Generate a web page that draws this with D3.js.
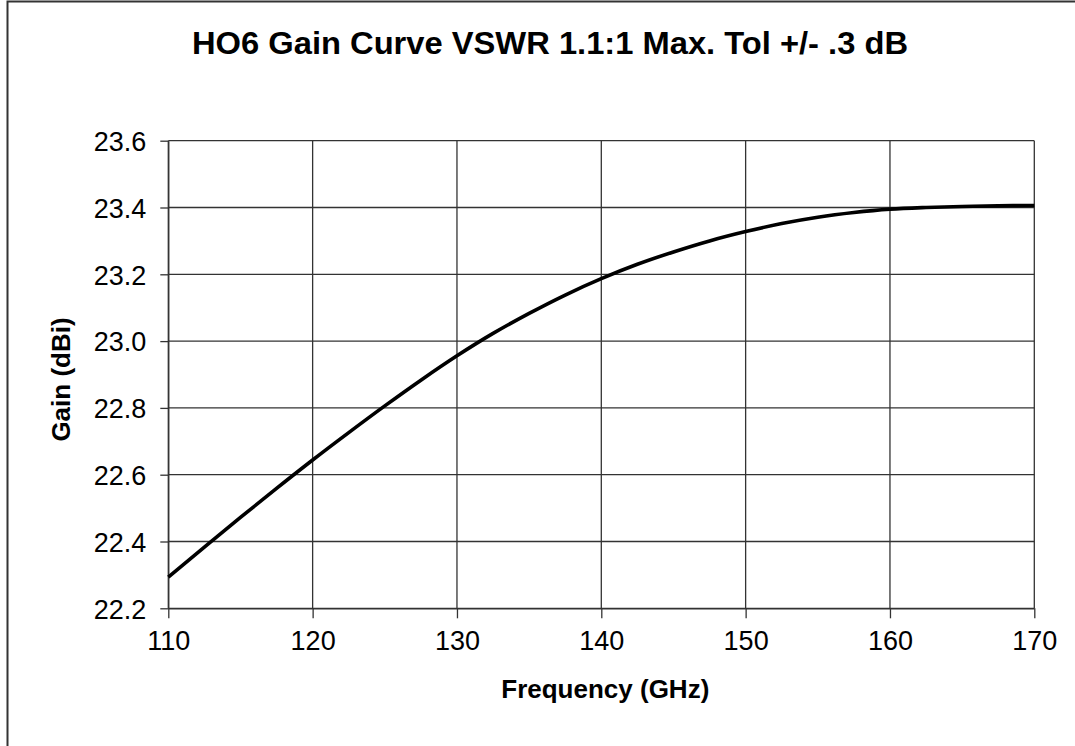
<!DOCTYPE html>
<html>
<head>
<meta charset="utf-8">
<script src="https://cdn.jsdelivr.net/npm/d3@7"></script>
<style>
  html, body { margin: 0; padding: 0; background: #fff; }
  svg { display: block; font-family: "Liberation Sans", Arial, sans-serif; }
</style>
</head>
<body>
<div id="chart"></div>
<script>
// Données
const frequencies = [110, 112.5, 115, 117.5, 120, 122.5, 125, 127.5, 130, 132.5, 135, 137.5, 140,
    142.5, 145, 147.5, 150, 152.5, 155, 157.5, 160, 162.5, 165, 167.5, 170];
const gains = [22.293, 22.383, 22.472, 22.559, 22.644, 22.726, 22.806, 22.883, 22.956, 23.023, 23.083, 23.138, 23.187,
    23.230, 23.267, 23.300, 23.328, 23.352, 23.371, 23.385, 23.395, 23.400, 23.403, 23.405, 23.406];
const xTicks = [110, 120, 130, 140, 150, 160, 170];
const yTicks = [22.2, 22.4, 22.6, 22.8, 23.0, 23.2, 23.4, 23.6];

const chartTitle = 'HO6 Gain Curve VSWR 1.1:1 Max. Tol +/- .3 dB';
const xTitle = 'Frequency (GHz)';
const yTitle = 'Gain (dBi)';

const W = 1075, H = 746;
const plot = { left: 168.3, right: 1034.3, top: 140.7, bottom: 608.3 };

const svg = d3.select('#chart').append('svg')
    .attr('width', W)
    .attr('height', H);

// cadre extérieur
svg.append('rect')
    .attr('x', 7.5).attr('y', 1.5)
    .attr('width', 1100).attr('height', 800)
    .attr('fill', '#fff')
    .attr('stroke', '#333')
    .attr('stroke-width', 2);

const x = d3.scaleLinear().domain([110, 170]).range([plot.left, plot.right]);
const y = d3.scaleLinear().domain([22.2, 23.6]).range([plot.bottom, plot.top]);

// grille
const grid = svg.append('g').attr('stroke', '#333').attr('stroke-width', 1.3);
grid.selectAll('.vg').data(xTicks).enter().append('line')
    .attr('x1', d => x(d)).attr('x2', d => x(d))
    .attr('y1', plot.top).attr('y2', plot.bottom);
grid.selectAll('.hg').data(yTicks).enter().append('line')
    .attr('x1', plot.left).attr('x2', plot.right)
    .attr('y1', d => y(d)).attr('y2', d => y(d));

// axes
const xAxis = svg.append('g')
    .attr('transform', `translate(0,${plot.bottom})`)
    .call(d3.axisBottom(x).tickValues(xTicks).tickFormat(d3.format('d')).tickSize(10).tickSizeOuter(0).tickPadding(13));

const yAxis = svg.append('g')
    .attr('transform', `translate(${plot.left},0)`)
    .call(d3.axisLeft(y).tickValues(yTicks).tickFormat(d3.format('.1f')).tickSize(8).tickSizeOuter(0).tickPadding(14));

[xAxis, yAxis].forEach(a => {
    a.selectAll('path, line').attr('stroke', '#333').attr('stroke-width', 1.3);
    a.selectAll('text')
        .attr('fill', '#000')
        .style('font-family', '"Liberation Sans", Arial, sans-serif')
        .style('font-size', '27px');
});
yAxis.selectAll('text').attr('dy', '0.36em');

// courbe
const line = d3.line()
    .x((d, i) => x(frequencies[i]))
    .y(d => y(d))
    .curve(d3.curveCatmullRom.alpha(0.5));

svg.append('path')
    .datum(gains)
    .attr('fill', 'none')
    .attr('stroke', '#000')
    .attr('stroke-width', 3.6)
    .attr('d', line);

// titres
svg.append('text')
    .attr('x', 550).attr('y', 54)
    .attr('text-anchor', 'middle')
    .attr('textLength', 716)
    .attr('lengthAdjust', 'spacingAndGlyphs')
    .style('font-size', '31px')
    .style('font-weight', 'bold')
    .text(chartTitle);

svg.append('text')
    .attr('x', (plot.left + plot.right) / 2 + 4).attr('y', 698)
    .attr('text-anchor', 'middle')
    .style('font-size', '26px')
    .style('font-weight', 'bold')
    .text(xTitle);

svg.append('text')
    .attr('transform', `translate(70,${(plot.top + plot.bottom) / 2 + 5}) rotate(-90)`)
    .attr('text-anchor', 'middle')
    .style('font-size', '26px')
    .style('font-weight', 'bold')
    .text(yTitle);
</script>
</body>
</html>
